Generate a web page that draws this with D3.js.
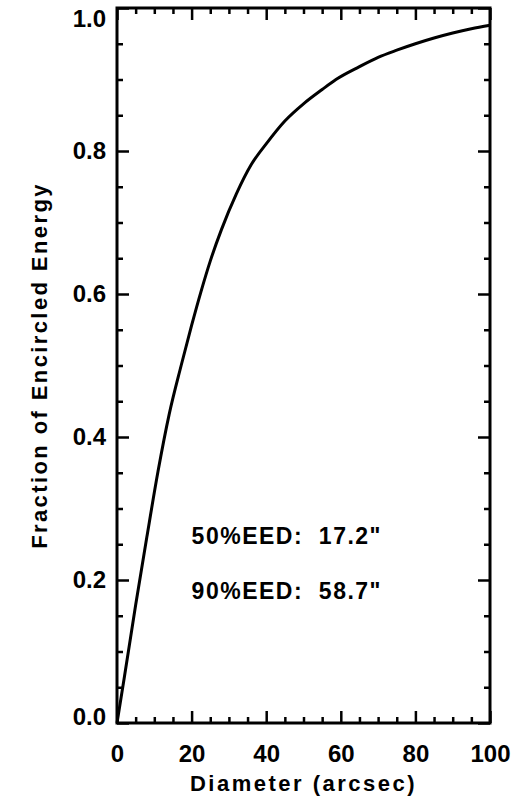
<!DOCTYPE html>
<html>
<head>
<meta charset="utf-8">
<script src="https://cdn.jsdelivr.net/npm/d3@7"></script>
<style>
  html, body { margin: 0; padding: 0; background: #fff; }
  svg { display: block; }
</style>
</head>
<body>
<div id="chart"></div>
<script>
// Encircled energy curve
var diameters = [0, 2, 5, 8, 11, 14, 17.2, 20, 22.5, 25, 28, 32, 36, 40, 45, 50, 55, 58.7, 65, 70, 75, 80, 85, 90, 95, 100];
var fractions = [0, 0.065, 0.165, 0.26, 0.352, 0.432, 0.5, 0.556, 0.603, 0.646, 0.69, 0.74, 0.781, 0.81, 0.842, 0.866, 0.886, 0.9, 0.918, 0.931, 0.941, 0.95, 0.958, 0.965, 0.971, 0.976];

var xMajorTicks = [0, 20, 40, 60, 80, 100];
var xMinorTicks = [5, 10, 15, 25, 30, 35, 45, 50, 55, 65, 70, 75, 85, 90, 95];
var yMajorTicks = [0, 0.2, 0.4, 0.6, 0.8, 1.0];
var yMinorTicks = [0.05, 0.1, 0.15, 0.25, 0.3, 0.35, 0.45, 0.5, 0.55, 0.65, 0.7, 0.75, 0.85, 0.9, 0.95];

var annotations = ['50%EED:  17.2"', '90%EED:  58.7"'];

var attrs = {
    svgWidth: 521,
    svgHeight: 801,
    marginTop: 8,
    marginBottom: 78,
    marginLeft: 117,
    marginRight: 31,
    font: '"Liberation Sans", Arial, sans-serif',
    ink: '#000'
};

var calc = {};
calc.chartWidth = attrs.svgWidth - attrs.marginLeft - attrs.marginRight;
calc.chartHeight = attrs.svgHeight - attrs.marginTop - attrs.marginBottom;

//################################ SCALES ######################
var x = d3.scaleLinear().domain([0, 100]).range([0, calc.chartWidth]);
var y = d3.scaleLinear().domain([0, 1]).range([calc.chartHeight, 0]);

var line = d3.line()
    .x(function (d) { return x(d[0]); })
    .y(function (d) { return y(d[1]); })
    .curve(d3.curveMonotoneX);

//################################ DRAWING ######################
var svg = d3.select('#chart').append('svg')
    .attr('width', attrs.svgWidth)
    .attr('height', attrs.svgHeight)
    .attr('font-family', attrs.font)
    .attr('font-weight', 'bold');

var chart = svg.append('g')
    .attr('transform', 'translate(' + attrs.marginLeft + ',' + attrs.marginTop + ')');

function styleAxis(g) {
    g.select('.domain').remove();
    g.selectAll('.tick line').attr('stroke', attrs.ink).attr('stroke-width', 2.5);
    g.selectAll('.tick text').attr('fill', attrs.ink).attr('font-size', 24).attr('font-family', attrs.font);
}

// bottom axis with labels
chart.append('g')
    .attr('transform', 'translate(0,' + calc.chartHeight + ')')
    .call(d3.axisBottom(x).tickValues(xMajorTicks).tickSizeInner(-12).tickSizeOuter(0).tickPadding(22).tickFormat(d3.format('d')))
    .call(styleAxis);
chart.append('g')
    .attr('transform', 'translate(0,' + calc.chartHeight + ')')
    .call(d3.axisBottom(x).tickValues(xMinorTicks).tickSizeInner(-6).tickSizeOuter(0).tickFormat(''))
    .call(styleAxis);

// top axis, ticks only
chart.append('g')
    .call(d3.axisTop(x).tickValues(xMajorTicks).tickSizeInner(-12).tickSizeOuter(0).tickFormat(''))
    .call(styleAxis);
chart.append('g')
    .call(d3.axisTop(x).tickValues(xMinorTicks).tickSizeInner(-6).tickSizeOuter(0).tickFormat(''))
    .call(styleAxis);

// left axis with labels
var yLeft = chart.append('g')
    .call(d3.axisLeft(y).tickValues(yMajorTicks).tickSizeInner(-12).tickSizeOuter(0).tickPadding(11).tickFormat(d3.format('.1f')))
    .call(styleAxis);
// end labels are pulled inside the frame
yLeft.selectAll('.tick text')
    .attr('y', function (d) { return d === 0 ? -6 : (d === 1 ? 11 : 0); });
chart.append('g')
    .call(d3.axisLeft(y).tickValues(yMinorTicks).tickSizeInner(-6).tickSizeOuter(0).tickFormat(''))
    .call(styleAxis);

// right axis, ticks only
chart.append('g')
    .attr('transform', 'translate(' + calc.chartWidth + ',0)')
    .call(d3.axisRight(y).tickValues(yMajorTicks).tickSizeInner(-12).tickSizeOuter(0).tickFormat(''))
    .call(styleAxis);
chart.append('g')
    .attr('transform', 'translate(' + calc.chartWidth + ',0)')
    .call(d3.axisRight(y).tickValues(yMinorTicks).tickSizeInner(-6).tickSizeOuter(0).tickFormat(''))
    .call(styleAxis);

// frame
chart.append('rect')
    .attr('x', 0).attr('y', 0)
    .attr('width', calc.chartWidth)
    .attr('height', calc.chartHeight)
    .attr('fill', 'none')
    .attr('stroke', attrs.ink)
    .attr('stroke-width', 3);

// curve
chart.append('path')
    .datum(d3.zip(diameters, fractions))
    .attr('d', line)
    .attr('fill', 'none')
    .attr('stroke', attrs.ink)
    .attr('stroke-width', 3)
    .attr('stroke-linejoin', 'round');

// annotations
chart.selectAll('text.note')
    .data(annotations)
    .enter().append('text')
    .attr('class', 'note')
    .attr('x', x(20))
    .attr('y', function (d, i) { return i === 0 ? y(0.25) : y(0.173); })
    .attr('font-size', 23)
    .attr('letter-spacing', 1.5)
    .attr('fill', attrs.ink)
    .style('white-space', 'pre')
    .text(function (d) { return d; });

// axis titles
svg.append('text')
    .attr('x', attrs.marginLeft + calc.chartWidth / 2)
    .attr('y', 791)
    .attr('text-anchor', 'middle')
    .attr('font-size', 22)
    .attr('letter-spacing', 2.5)
    .attr('fill', attrs.ink)
    .text('Diameter (arcsec)');

svg.append('text')
    .attr('transform', 'translate(47,' + (attrs.marginTop + calc.chartHeight / 2) + ') rotate(-90)')
    .attr('text-anchor', 'middle')
    .attr('font-size', 22)
    .attr('letter-spacing', 2.4)
    .attr('fill', attrs.ink)
    .text('Fraction of Encircled Energy');
</script>
</body>
</html>
